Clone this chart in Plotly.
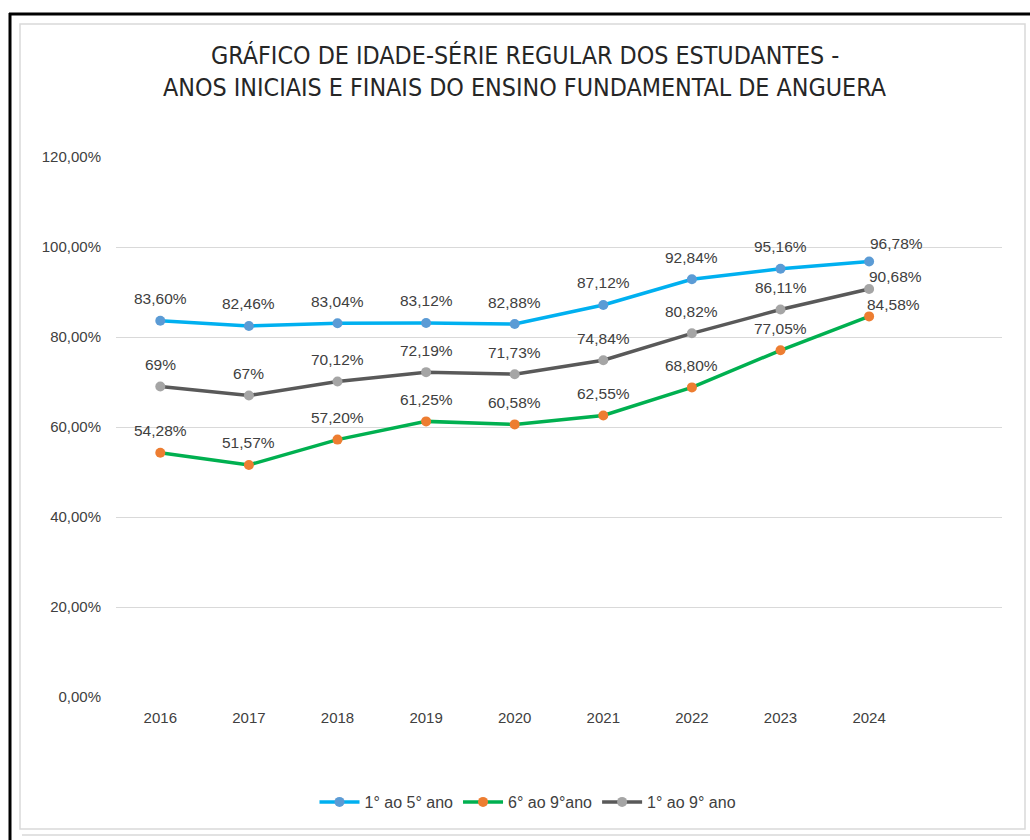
import plotly.graph_objects as go

years = ["2016", "2017", "2018", "2019", "2020", "2021", "2022", "2023", "2024"]
s1_name = "1° ao 5° ano"
s1_vals = [83.60, 82.46, 83.04, 83.12, 82.88, 87.12, 92.84, 95.16, 96.78]
s1_text = ["83,60%", "82,46%", "83,04%", "83,12%", "82,88%", "87,12%", "92,84%", "95,16%", "96,78%"]
s2_name = "6° ao 9°ano"
s2_vals = [54.28, 51.57, 57.20, 61.25, 60.58, 62.55, 68.80, 77.05, 84.58]
s2_text = ["54,28%", "51,57%", "57,20%", "61,25%", "60,58%", "62,55%", "68,80%", "77,05%", "84,58%"]
s3_name = "1° ao 9° ano"
s3_vals = [69.0, 67.0, 70.12, 72.19, 71.73, 74.84, 80.82, 86.11, 90.68]
s3_text = ["69%", "67%", "70,12%", "72,19%", "71,73%", "74,84%", "80,82%", "86,11%", "90,68%"]
y_ticks = [0, 20, 40, 60, 80, 100, 120]
y_ticktext = ["0,00%", "20,00%", "40,00%", "60,00%", "80,00%", "100,00%", "120,00%"]
title_lines = ["GRÁFICO DE IDADE-SÉRIE REGULAR DOS ESTUDANTES -",
               "ANOS INICIAIS E FINAIS DO ENSINO FUNDAMENTAL DE ANGUERA"]

W, H = 1030, 840
L, R, T, B = 116, 1002, 157, 697

def px(x):
    return (x - L) / (R - L)

def py(y):
    return (B - y) / (B - T)

series = [
    (s1_name, s1_vals, s1_text, "#00B0F0", "#5B9BD5", (27, 18)),
    (s2_name, s2_vals, s2_text, "#00B050", "#ED7D31", (24, 12)),
    (s3_name, s3_vals, s3_text, "#595959", "#A5A5A5", (26, 12)),
]

x_idx = list(range(len(years)))

fig = go.Figure()
annotations = []
for name, vals, texts, lc, mc, last_off in series:
    fig.add_trace(go.Scatter(
        x=x_idx, y=vals, name=name, mode="lines+markers",
        line=dict(color=lc, width=3.5),
        marker=dict(color=mc, size=10),
        hoverinfo="skip",
    ))
    for i, (xv, yv, tx) in enumerate(zip(x_idx, vals, texts)):
        xs, ys = (0, 22)
        if i == len(vals) - 1:
            xs, ys = last_off
        annotations.append(dict(
            x=xv, y=yv, xref="x", yref="y", text=tx, showarrow=False, xshift=xs, yshift=ys,
            font=dict(family="Liberation Sans", size=15.5, color="#404040"),
        ))

for k, line in enumerate(title_lines):
    annotations.append(dict(
        x=px(525), y=py(55 + 32 * k), xref="paper", yref="paper",
        text=line, showarrow=False, xanchor="center", yanchor="middle",
        font=dict(family="DejaVu Sans Condensed, Liberation Sans", size=24.8, color="#262626"),
    ))

shapes = [
    dict(type="rect", xref="paper", yref="paper", x0=px(20), x1=px(1025), y0=py(24), y1=py(829),
         line=dict(color="#D9D9D9", width=1.5), layer="below"),
    dict(type="line", xref="paper", yref="paper", x0=px(22), x1=px(1030), y0=py(835), y1=py(835),
         line=dict(color="#D9D9D9", width=1.5)),
    dict(type="line", xref="paper", yref="paper", x0=px(9), x1=px(1030), y0=py(14), y1=py(14),
         line=dict(color="#000000", width=3)),
    dict(type="line", xref="paper", yref="paper", x0=px(10), x1=px(10), y0=py(13), y1=py(840),
         line=dict(color="#000000", width=3)),
]

fig.update_layout(
    width=W, height=H,
    margin=dict(l=L, r=W - R, t=T, b=H - B, pad=0),
    paper_bgcolor="white", plot_bgcolor="white",
    showlegend=True,
    legend=dict(orientation="h", x=px(528), y=py(802), xanchor="center", yanchor="middle",
                font=dict(family="Liberation Sans", size=16, color="#404040"),
                itemwidth=40, bgcolor="rgba(0,0,0,0)"),
    annotations=annotations,
    shapes=shapes,
    xaxis=dict(range=[-0.5, 9.5], tickvals=x_idx, ticktext=years, showgrid=False, zeroline=False,
               showline=False, ticks="", ticklabelstandoff=10,
               tickfont=dict(family="Liberation Sans", size=15, color="#404040"),
               fixedrange=True),
    yaxis=dict(range=[0, 120], tickvals=y_ticks, ticktext=y_ticktext, showgrid=True,
               gridcolor="#D9D9D9", gridwidth=1, zeroline=False, showline=False, ticks="",
               ticklabelstandoff=14,
               tickfont=dict(family="Liberation Sans", size=15, color="#404040"),
               fixedrange=True),
)

fig.write_html("out.html", config={"displayModeBar": False},
               post_script="document.body.style.margin='0';document.body.style.padding='0';")
